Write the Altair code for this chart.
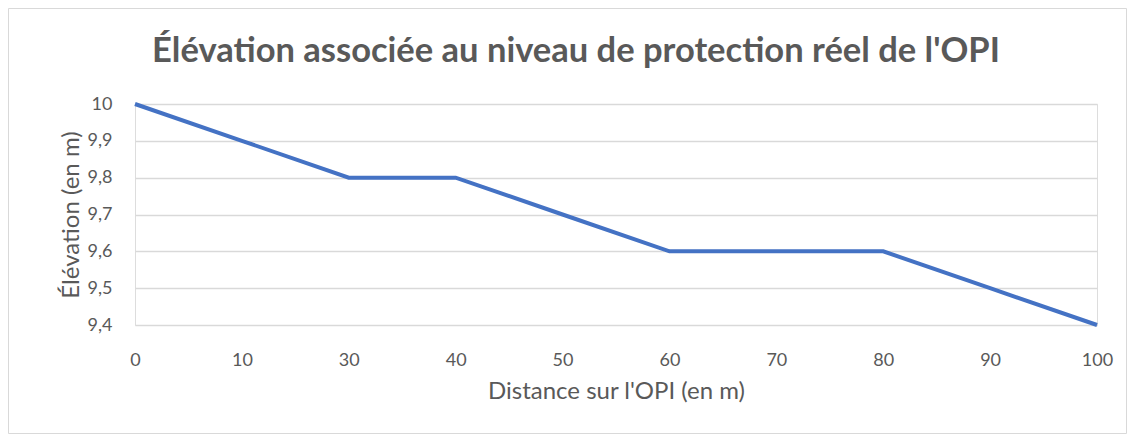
import altair as alt
import pandas as pd

distances = ["0", "10", "30", "40", "50", "60", "70", "80", "90", "100"]
elevations = [10.0, 9.9, 9.8, 9.8, 9.7, 9.6, 9.6, 9.6, 9.5, 9.4]
title_text = "Élévation associée au niveau de protection réel de l'OPI"

df = pd.DataFrame({"Distance": distances, "Elevation": elevations})

FONT = "Lato"
GREY = "#595959"
W, H = 962, 221

line = alt.Chart(df).mark_line(color="#4472C4", strokeWidth=4, clip=False).encode(
    x=alt.X("Distance:O", sort=distances,
            scale=alt.Scale(type="point", padding=0),
            axis=alt.Axis(title="Distance sur l'OPI (en m)", labelAngle=0,
                          domain=False, ticks=False, labelPadding=26,
                          titlePadding=10, labelFontSize=18, titleFontSize=24,
                          labelColor=GREY, titleColor=GREY, labelFont=FONT,
                          titleFont=FONT, titleFontWeight="normal", grid=False)),
    y=alt.Y("Elevation:Q", scale=alt.Scale(domain=[9.4, 10.0], nice=False, zero=False),
            axis=alt.Axis(title="Élévation (en m)", values=[9.4, 9.5, 9.6, 9.7, 9.8, 9.9, 10.0],
                          labelExpr="datum.value >= 10 ? '10' : replace(format(datum.value, '.1f'), '.', ',')",
                          domain=False, ticks=False, labelPadding=23, titlePadding=4,
                          labelFontSize=18, titleFontSize=24, labelColor=GREY,
                          titleColor=GREY, labelFont=FONT, titleFont=FONT,
                          titleFontWeight="normal", grid=True, gridColor="#d9d9d9",
                          gridWidth=1.3)),
)

border = alt.Chart(pd.DataFrame({"a": [0]})).mark_rect(
    fill=None, stroke="#d9d9d9", strokeWidth=1, clip=False
).encode(
    x=alt.value(-126.5), x2=alt.value(991.5),
    y=alt.value(-95.5), y2=alt.value(329.5),
)

title = alt.Chart(pd.DataFrame({"t": [title_text]})).mark_text(
    font=FONT, fontSize=34.5, fontWeight="bold", color=GREY,
    align="center", baseline="alphabetic", clip=False
).encode(
    text="t:N", x=alt.value(441), y=alt.value(-42),
)

chart = alt.layer(border, line, title).properties(
    width=W, height=H,
    autosize=alt.AutoSizeParams(type="none"),
    padding={"left": 127, "top": 96, "right": 30, "bottom": 110},
).configure_view(stroke=None).configure(background="white")

chart.save("out.html", embed_options={"renderer": "svg", "actions": False})
